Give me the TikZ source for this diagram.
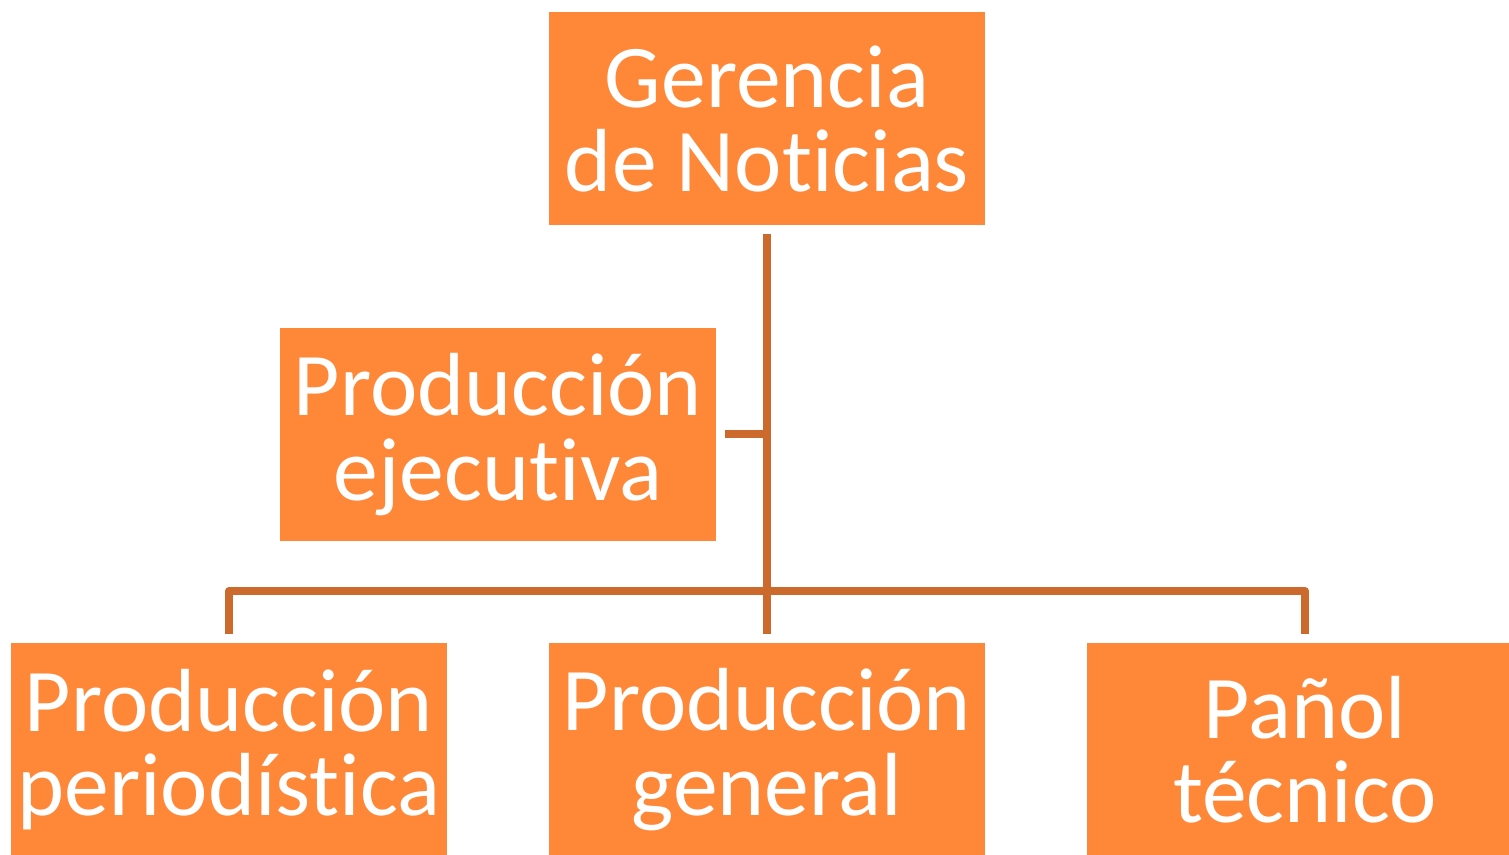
\documentclass[tikz,border=0pt]{standalone}
\usepackage{fontspec}
\setmainfont[Ligatures=NoCommon]{Carlito}
\usepackage{tikz}
\usetikzlibrary{positioning}
\definecolor{boxorange}{RGB}{255,136,56}
\definecolor{linkorange}{RGB}{204,106,45}
\tikzstyle{unit}=[rectangle, fill=boxorange, text=white, minimum width=8.72cm, minimum height=4.26cm, inner sep=0pt, outer sep=0.17cm, align=center, font=\fontsize{51}{48}\selectfont]
\tikzstyle{link}=[draw=linkorange, line width=0.16cm, line join=round]

\begin{document}
\begin{tikzpicture}
	\clip (0,0) rectangle (30.18,17.08);
	\begin{scope}
		\node (gerencia) at (15.34, 14.70)[unit] {Gerencia\\de Noticias};
		\node (ejecutiva) at (9.96, 8.39)[unit] {Producción\\ejecutiva};
		\node (periodistica) at (4.58, 2.09)[unit] {Producción\\periodística};
		\node (general) at (15.34, 2.09)[unit] {Producción\\general};
		\node (panol) at (26.10, 2.09)[unit] {Pañol\\técnico};
		\coordinate (bus) at (15.34, 5.26);
	\end{scope}
	\begin{scope}
		\path [link] (gerencia.south) edge (general.north);
		\path [link] (ejecutiva.east) edge (ejecutiva.east -| gerencia.south);
		\draw [link] (periodistica.north) |- (bus) -| (panol.north);
	\end{scope}
\end{tikzpicture}
\end{document}
